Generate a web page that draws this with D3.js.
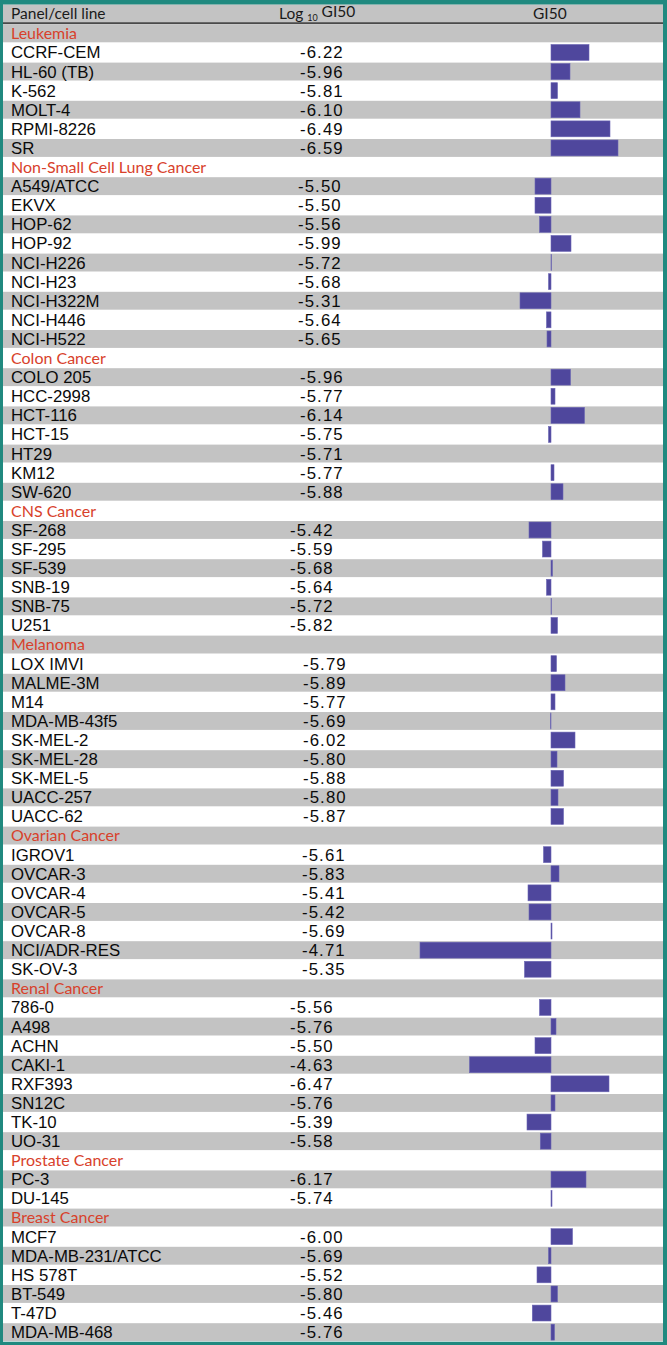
<!DOCTYPE html>
<html>
<head>
<meta charset="utf-8">
<script src="https://cdn.jsdelivr.net/npm/d3@7/dist/d3.min.js"></script>
<style>
  html, body { margin: 0; padding: 0; background: #ffffff; }
  svg { display: block; }
</style>
</head>
<body>
<div class="gi50-chart"></div>
<script>
// Panel names, in drawing order
var panels = ["Leukemia", "Non-Small Cell Lung Cancer", "Colon Cancer", "CNS Cancer", "Melanoma",
  "Ovarian Cancer", "Renal Cancer", "Prostate Cancer", "Breast Cancer"];

// Cell lines of each panel
var cellLines = [
  ["CCRF-CEM", "HL-60 (TB)", "K-562", "MOLT-4", "RPMI-8226", "SR"],
  ["A549/ATCC", "EKVX", "HOP-62", "HOP-92", "NCI-H226", "NCI-H23", "NCI-H322M", "NCI-H446", "NCI-H522"],
  ["COLO 205", "HCC-2998", "HCT-116", "HCT-15", "HT29", "KM12", "SW-620"],
  ["SF-268", "SF-295", "SF-539", "SNB-19", "SNB-75", "U251"],
  ["LOX IMVI", "MALME-3M", "M14", "MDA-MB-43f5", "SK-MEL-2", "SK-MEL-28", "SK-MEL-5", "UACC-257", "UACC-62"],
  ["IGROV1", "OVCAR-3", "OVCAR-4", "OVCAR-5", "OVCAR-8", "NCI/ADR-RES", "SK-OV-3"],
  ["786-0", "A498", "ACHN", "CAKI-1", "RXF393", "SN12C", "TK-10", "UO-31"],
  ["PC-3", "DU-145"],
  ["MCF7", "MDA-MB-231/ATCC", "HS 578T", "BT-549", "T-47D", "MDA-MB-468"]
];

// Log10 GI50 values, same order as cellLines
var logGI50 = [
  [-6.22, -5.96, -5.81, -6.10, -6.49, -6.59],
  [-5.50, -5.50, -5.56, -5.99, -5.72, -5.68, -5.31, -5.64, -5.65],
  [-5.96, -5.77, -6.14, -5.75, -5.71, -5.77, -5.88],
  [-5.42, -5.59, -5.68, -5.64, -5.72, -5.82],
  [-5.79, -5.89, -5.77, -5.69, -6.02, -5.80, -5.88, -5.80, -5.87],
  [-5.61, -5.83, -5.41, -5.42, -5.69, -4.71, -5.35],
  [-5.56, -5.76, -5.50, -4.63, -6.47, -5.76, -5.39, -5.58],
  [-6.17, -5.74],
  [-6.00, -5.69, -5.52, -5.80, -5.46, -5.76]
];

// GI50 mean-graph bar deviations (positive = right of the mean line)
var gi50Bars = [
  [0.38, 0.19, 0.065, 0.29, 0.59, 0.67],
  [-0.16, -0.16, -0.115, 0.20, 0.005, -0.025, -0.31, -0.045, -0.04],
  [0.195, 0.04, 0.335, -0.025, 0, 0.03, 0.12],
  [-0.22, -0.085, 0.015, -0.045, 0.004, 0.065],
  [0.055, 0.14, 0.04, -0.005, 0.24, 0.06, 0.125, 0.07, 0.125],
  [-0.075, 0.08, -0.23, -0.22, 0.01, -1.31, -0.265],
  [-0.115, 0.05, -0.16, -0.815, 0.58, 0.04, -0.24, -0.107],
  [0.35, 0.01],
  [0.215, -0.025, -0.14, 0.065, -0.187, 0.035]
];

// Header labels
var headers = ["Panel/cell line", "Log", "10", "GI50", "GI50"];

// Layout: where each panel's value column starts (the source is pieced together)
var valueX = [300, 298, 300, 290, 303, 302, 290, 290, 300];

var width = 667, height = 1345;
var frame = { left: 3, right: 4, top: 4.7, bottom: 3.3 };
var rowH = 19.1;
var teal = "#20897f";
var stripe = "#c3c3c3";
var barColor = "#4f479d";
var nameFont = "'Liberation Sans', Arial, sans-serif";
var headFont = "Lato, 'Noto Sans', sans-serif";

// Flatten into rows: header, then a panel row followed by its cell lines
var rows = [];
panels.forEach(function(p, pi) {
  rows.push({ type: "panel", label: p, panel: pi });
  cellLines[pi].forEach(function(c, ci) {
    rows.push({ type: "cell", label: c, panel: pi, value: logGI50[pi][ci], bar: gi50Bars[pi][ci] });
  });
});

var svg = d3.select(".gi50-chart").append("svg")
  .attr("width", width)
  .attr("height", height);

// Teal frame behind everything
svg.append("rect")
  .attr("width", width).attr("height", height)
  .attr("fill", teal);

var innerW = width - frame.left - frame.right;
svg.append("rect")
  .attr("x", frame.left).attr("y", frame.top)
  .attr("width", innerW).attr("height", height - frame.top - frame.bottom)
  .attr("fill", "#ffffff");

// Vertical scale: row index -> y (row 0 is the header)
var yScale = d3.scaleBand()
  .domain(d3.range(rows.length + 1))
  .range([frame.top, frame.top + rowH * (rows.length + 1)])
  .paddingInner(0);

// Horizontal scale for the GI50 bars, 100px per log unit, mean line at x=551
var xScale = d3.scaleLinear()
  .domain([-1.3, 0.7])
  .range([421, 621]);

// Header band
svg.append("rect")
  .attr("x", frame.left).attr("y", yScale(0))
  .attr("width", innerW).attr("height", rowH)
  .attr("fill", stripe);
svg.append("line")
  .attr("x1", frame.left).attr("x2", width - frame.right)
  .attr("y1", yScale(0) + rowH - 0.5).attr("y2", yScale(0) + rowH - 0.5)
  .attr("stroke", "#4a4a4a").attr("stroke-width", 2);

var head = svg.append("g")
  .attr("font-family", headFont)
  .attr("font-size", 15.5)
  .attr("fill", "#1a1a1a");
var hy = yScale(0) + rowH / 2 - 1;
head.append("text").attr("x", 11).attr("y", hy).attr("dy", "0.35em").text(headers[0]);
var logT = head.append("text").attr("x", 279).attr("y", hy).attr("dy", "0.35em");
logT.append("tspan").text(headers[1] + " ");
logT.append("tspan").attr("font-size", 9).attr("dy", "0.3em").text(headers[2]);
logT.append("tspan").attr("dy", "-0.3em").text(" " + headers[3]);
head.append("text").attr("x", 533).attr("y", hy).attr("dy", "0.35em").text(headers[4]);

// Row stripes: odd rows (counting the header as 0) are grey
var body = svg.append("g");
body.selectAll(".stripe")
  .data(rows.map(function(r, i) { return i + 1; }).filter(function(i) { return i % 2 === 1; }))
  .enter()
  .append("rect")
  .attr("class", "stripe")
  .attr("x", frame.left)
  .attr("y", function(i) { return yScale(i) + 0.6; })
  .attr("width", innerW)
  .attr("height", rowH - 1.2)
  .attr("fill", stripe);

// Row labels
body.selectAll(".label")
  .data(rows)
  .enter()
  .append("text")
  .attr("class", "label")
  .attr("x", 11)
  .attr("y", function(d, i) { return yScale(i + 1) + rowH / 2; })
  .attr("dy", "0.36em")
  .attr("font-family", function(d) { return d.type === "panel" ? headFont : nameFont; })
  .attr("font-size", function(d) { return d.type === "panel" ? 16 : 16.8; })
  .attr("fill", function(d) { return d.type === "panel" ? "#d8412b" : "#0a0a0a"; })
  .text(function(d) { return d.label; });

// Log10 GI50 values
var fmt = d3.format(".2f");
body.selectAll(".value")
  .data(rows.map(function(r, i) { return { r: r, i: i }; }).filter(function(d) { return d.r.type === "cell"; }))
  .enter()
  .append("text")
  .attr("class", "value")
  .attr("x", function(d) { return valueX[d.r.panel]; })
  .attr("y", function(d) { return yScale(d.i + 1) + rowH / 2; })
  .attr("dy", "0.36em")
  .attr("font-family", nameFont)
  .attr("font-size", 16.8)
  .attr("letter-spacing", 1.1)
  .attr("fill", "#0a0a0a")
  .text(function(d) { return fmt(d.r.value).replace("\u2212", "-"); });

// GI50 bars
body.selectAll(".bar")
  .data(rows.map(function(r, i) { return { r: r, i: i }; }).filter(function(d) { return d.r.type === "cell" && d.r.bar !== 0; }))
  .enter()
  .append("rect")
  .attr("class", "bar")
  .attr("x", function(d) { return Math.min(xScale(0), xScale(d.r.bar)); })
  .attr("y", function(d) { return yScale(d.i + 1) + 1.6; })
  .attr("width", function(d) { return Math.abs(xScale(d.r.bar) - xScale(0)); })
  .attr("height", rowH - 3.2)
  .attr("fill", barColor)
  .attr("stroke", "#6c66b4")
  .attr("stroke-width", 0.6);
</script>
</body>
</html>
